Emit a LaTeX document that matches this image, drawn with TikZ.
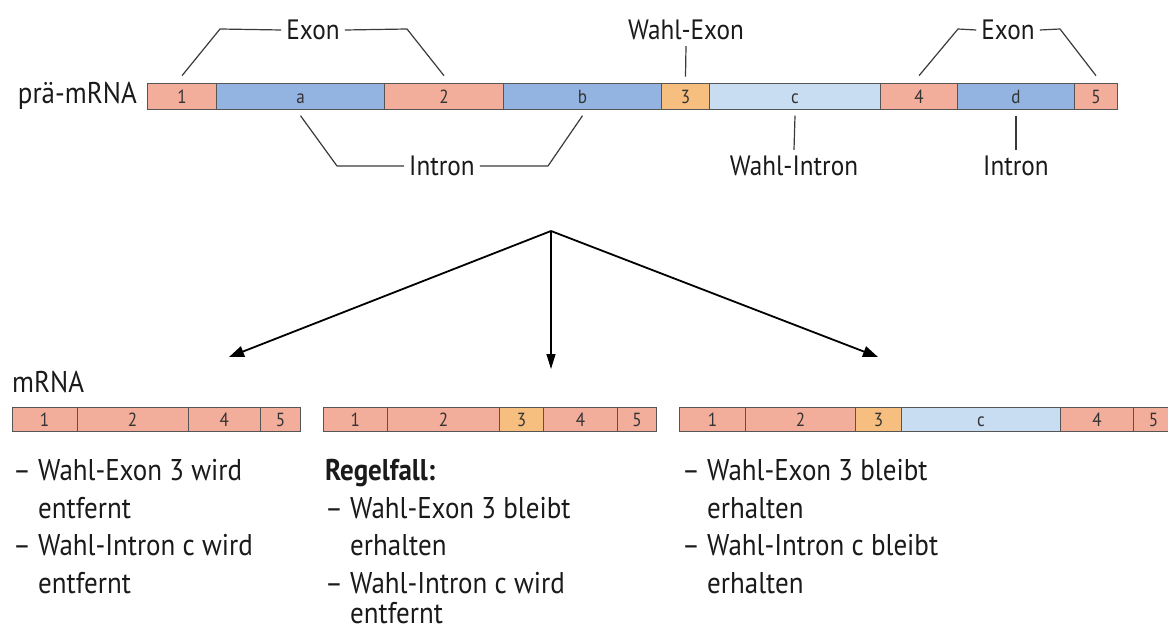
\documentclass[tikz,border=0pt]{standalone}
\usepackage{fontspec}
\setmainfont[FakeStretch=0.9]{PT Sans}
\usetikzlibrary{arrows.meta,calc}
\definecolor{exonc}{HTML}{F3AD9B}
\definecolor{intronc}{HTML}{93B4E0}
\definecolor{wexonc}{HTML}{F6BF80}
\definecolor{wintronc}{HTML}{C8DCF2}
\definecolor{segline}{HTML}{555555}
\definecolor{segtext}{HTML}{333333}
\definecolor{ink}{HTML}{1A1A1A}
\definecolor{brk}{HTML}{3A3A3A}
\begin{document}
\begin{tikzpicture}[x=1pt,y=-1pt,
  seg/.style={draw=segline,line width=1pt,inner sep=0pt,anchor=north west,
    font=\fontsize{19}{19}\selectfont,text=segtext,text height=15pt,text depth=0pt},
  topseg/.style={seg,minimum height=26pt},
  botseg/.style={seg,minimum height=24.3pt},
  exfill/.style={fill=exonc},
  infill/.style={fill=intronc},
  wexfill/.style={fill=wexonc},
  winfill/.style={fill=wintronc},
  lbl/.style={font=\fontsize{28}{28}\selectfont,text=ink,inner xsep=5pt,inner ysep=6pt},
  txt/.style={font=\fontsize{30}{30}\selectfont,text=ink,anchor=base west,inner sep=0pt},
  bracket/.style={draw=brk,line width=1.2pt,line join=round},
  arr/.style={draw=black,line width=1.8pt,-{Triangle[length=15pt,width=11pt]}},
  arrthin/.style={draw=black,line width=1.2pt,-{Triangle[length=15pt,width=9pt]}}
]
\useasboundingbox (0,0) rectangle (1168,631);
\clip (0,0) rectangle (1168,631);

% ---- pre-mRNA ----
\node[txt,anchor=east] (pre) at (137,96) {prä-mRNA};
\node[topseg,exfill,minimum width=69pt]  (t1) at (147,82.7) {1};
\node[topseg,infill,minimum width=168pt] (ta) at (216,82.7) {a};
\node[topseg,exfill,minimum width=119pt] (t2) at (384,82.7) {2};
\node[topseg,infill,minimum width=158pt] (tb) at (503,82.7) {b};
\node[topseg,wexfill,minimum width=48pt] (t3) at (661,82.7) {3};
\node[topseg,winfill,minimum width=171pt] (tc) at (709,82.7) {c};
\node[topseg,exfill,minimum width=77pt]  (t4) at (880,82.7) {4};
\node[topseg,infill,minimum width=117pt] (td) at (957,82.7) {d};
\node[topseg,exfill,minimum width=43pt]  (t5) at (1074,82.7) {5};

% ---- labels ----
\node[lbl] (exL) at (313,30) {Exon};
\node[lbl] (inL) at (442,166) {Intron};
\node[lbl] (wex) at (686,30) {Wahl-Exon};
\node[lbl] (win) at (794,166) {Wahl-Intron};
\node[lbl] (exR) at (1008,30) {Exon};
\node[lbl] (inR) at (1016,166) {Intron};

% ---- brackets ----
\draw[bracket] ($(t1.north)+(0,-7)$) -- (220,29) -- (exL.west);
\draw[bracket] (exL.east) -- (407,29) -- ($(t2.north)+(0,-7)$);
\draw[bracket] ($(ta.south)+(0,6)$) -- (337,166) -- (inL.west);
\draw[bracket] (inL.east) -- (548,166) -- ($(tb.south)+(0,6)$);
\draw[bracket] ($(t3.north)+(0,-6)$) -- (wex.south);
\draw[bracket] ($(tc.south)+(0,6)$) -- (win.north);
\draw[bracket] ($(t4.north)+(0,-7)$) -- (958,29) -- (exR.west);
\draw[bracket] (exR.east) -- (1060,29) -- ($(t5.north)+(0,-7)$);
\draw[bracket] ($(td.south)+(0,6)$) -- (inR.north);

% ---- arrows ----
\coordinate (apex) at (551,231);
\coordinate (eL) at (229,357);
\coordinate (eM) at (551,369);
\coordinate (eR) at (878,357);
\draw[arr] (apex) -- (eL);
\draw[arrthin] (apex) -- (eM);
\draw[arr] (apex) -- (eR);

% ---- mRNA ----
\node[txt] (mrna) at (12,392) {mRNA};

% bar 1
\node[botseg,exfill,minimum width=65pt]  (a1) at (11.5,406.7) {1};
\node[botseg,exfill,minimum width=111pt] (a2) at (76.5,406.7) {2};
\node[botseg,exfill,minimum width=72.5pt](a4) at (187.5,406.7) {4};
\node[botseg,exfill,minimum width=40pt]  (a5) at (260,406.7) {5};
% bar 2
\node[botseg,exfill,minimum width=64.4pt] (b1) at (322.6,406.7) {1};
\node[botseg,exfill,minimum width=112pt]  (b2) at (387,406.7) {2};
\node[botseg,wexfill,minimum width=44pt]  (b3) at (499,406.7) {3};
\node[botseg,exfill,minimum width=74pt]   (b4) at (543,406.7) {4};
\node[botseg,exfill,minimum width=39pt]   (b5) at (617,406.7) {5};
% bar 3
\node[botseg,exfill,minimum width=66pt]   (c1) at (679,406.7) {1};
\node[botseg,exfill,minimum width=110pt]  (c2) at (745,406.7) {2};
\node[botseg,wexfill,minimum width=46pt]  (c3) at (855,406.7) {3};
\node[botseg,winfill,minimum width=159pt] (cc) at (901,406.7) {c};
\node[botseg,exfill,minimum width=73pt]   (c4) at (1060,406.7) {4};
\node[botseg,exfill,minimum width=40pt]   (c5) at (1133,406.7) {5};

% ---- texts ----
\node[txt] (k1a) at (13,480) {– Wahl-Exon 3 wird};
\node[txt] (k1b) at (13,518) {\hphantom{– }entfernt};
\node[txt] (k1c) at (13,555) {– Wahl-Intron c wird};
\node[txt] (k1d) at (13,593) {\hphantom{– }entfernt};

\node[txt] (k2a) at (325,480) {\bfseries Regelfall:};
\node[txt] (k2b) at (325,518) {– Wahl-Exon 3 bleibt};
\node[txt] (k2c) at (325,555) {\hphantom{– }erhalten};
\node[txt] (k2d) at (325,593) {– Wahl-Intron c wird};
\node[txt] (k2e) at (325,623) {\hphantom{– }entfernt};

\node[txt] (k3a) at (682,480) {– Wahl-Exon 3 bleibt};
\node[txt] (k3b) at (682,518) {\hphantom{– }erhalten};
\node[txt] (k3c) at (682,555) {– Wahl-Intron c bleibt};
\node[txt] (k3d) at (682,593) {\hphantom{– }erhalten};
\end{tikzpicture}
\end{document}
